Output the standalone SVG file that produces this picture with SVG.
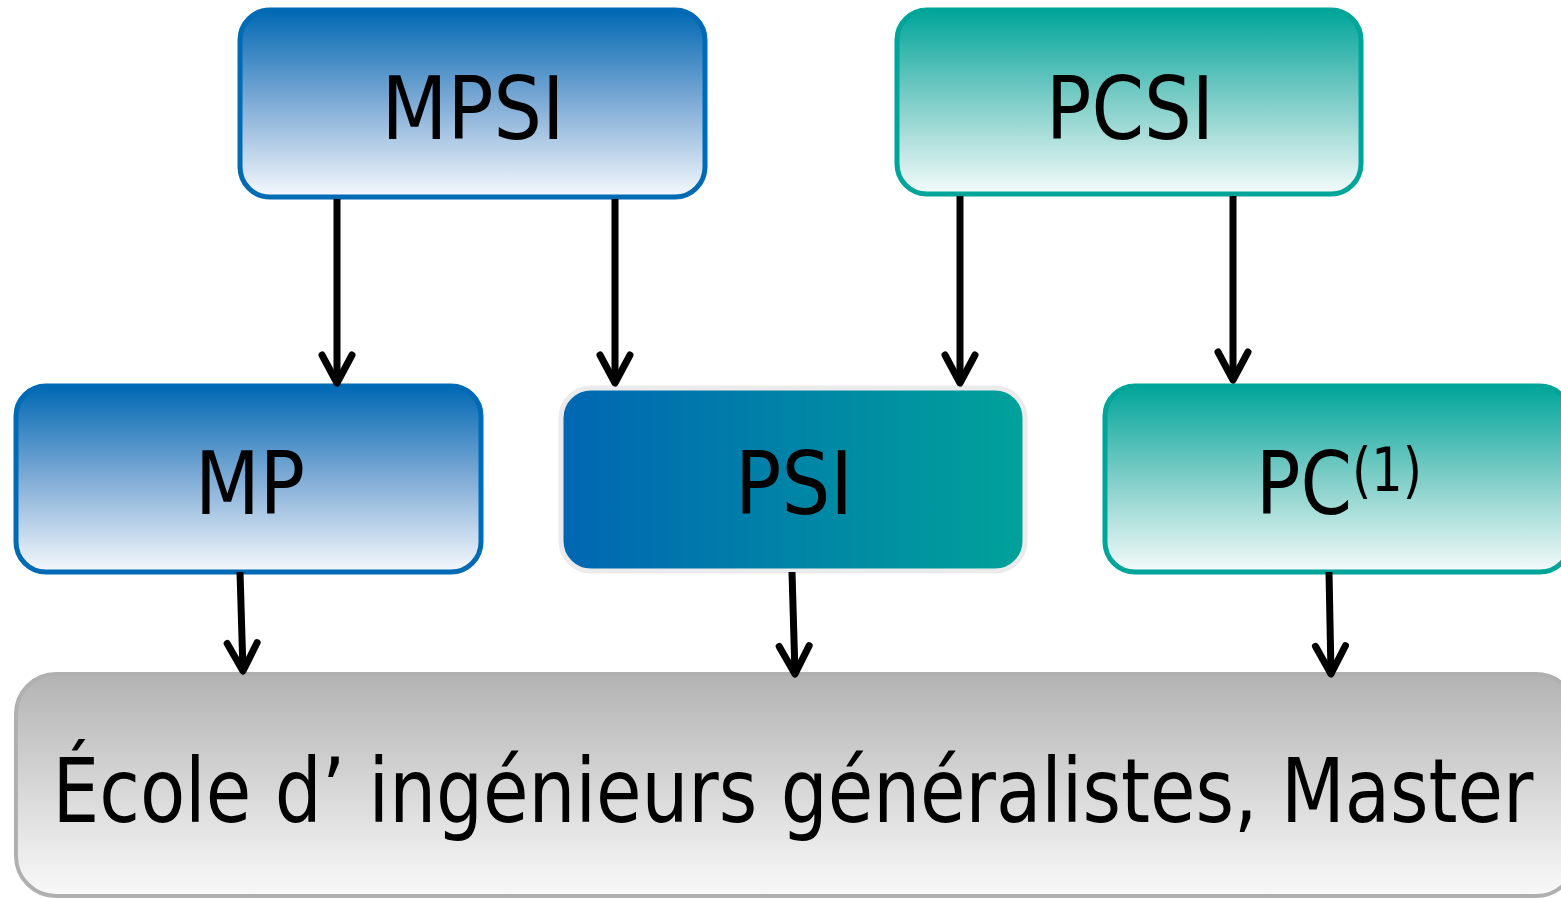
<svg xmlns="http://www.w3.org/2000/svg" width="1561" height="898" viewBox="0 0 1561 898">
<defs>
<linearGradient id="gBlue" x1="0" y1="0" x2="0" y2="1">
<stop offset="0" stop-color="#0068b3"/>
<stop offset="0.5" stop-color="#80acd6"/>
<stop offset="1" stop-color="#f6f9fd"/>
</linearGradient>
<linearGradient id="gTeal" x1="0" y1="0" x2="0" y2="1">
<stop offset="0" stop-color="#00a59a"/>
<stop offset="0.5" stop-color="#80cec8"/>
<stop offset="1" stop-color="#f4fbfa"/>
</linearGradient>
<linearGradient id="gPsi" x1="0" y1="0" x2="1" y2="0">
<stop offset="0" stop-color="#0066b3"/>
<stop offset="1" stop-color="#00a29a"/>
</linearGradient>
<linearGradient id="gGray" x1="0" y1="0" x2="0" y2="1">
<stop offset="0" stop-color="#b3b3b3"/>
<stop offset="1" stop-color="#f9f9f9"/>
</linearGradient>
<marker id="arr" markerUnits="userSpaceOnUse" markerWidth="44" markerHeight="44" viewBox="-36 -22 44 44" refX="0" refY="0" orient="auto">
<path d="M-28,-15 L0,0 L-28,15" fill="none" stroke="#000" stroke-width="7" stroke-linecap="round" stroke-linejoin="round"/>
</marker>
</defs>
<style>
.lbl{font-family:"DejaVu Sans Condensed","DejaVu Sans",sans-serif;font-size:87px;fill:#000;text-anchor:middle}
.blue{fill:url(#gBlue);stroke:#006ab4;stroke-width:5}
.teal{fill:url(#gTeal);stroke:#00a59a;stroke-width:5}
.conn line{stroke:#000;stroke-width:7;marker-end:url(#arr)}
</style>
<g id="node-mpsi">
<rect class="blue" x="240" y="10" width="465" height="187" rx="30"/>
<text class="lbl" x="473" y="139" textLength="183" lengthAdjust="spacingAndGlyphs">MPSI</text>
</g>
<g id="node-pcsi">
<rect class="teal" x="897" y="10" width="464" height="184" rx="30"/>
<text class="lbl" x="1130" y="139" textLength="168" lengthAdjust="spacingAndGlyphs">PCSI</text>
</g>
<g id="node-mp">
<rect class="blue" x="16" y="386" width="465" height="186" rx="30"/>
<text class="lbl" x="250" y="514" textLength="110" lengthAdjust="spacingAndGlyphs">MP</text>
</g>
<g id="node-psi">
<rect x="561" y="388" width="464" height="183" rx="30" fill="url(#gPsi)" stroke="#ebebeb" stroke-width="5"/>
<text class="lbl" x="794" y="514" textLength="118" lengthAdjust="spacingAndGlyphs">PSI</text>
</g>
<g id="node-pc">
<rect class="teal" x="1105" y="386" width="465" height="186" rx="30"/>
<text class="lbl" x="1304" y="514" textLength="96" lengthAdjust="spacingAndGlyphs">PC</text>
<text class="lbl" x="1387" y="491" style="font-size:60px" textLength="70" lengthAdjust="spacingAndGlyphs">(1)</text>
</g>
<g id="node-ecole">
<rect x="16" y="674" width="1560" height="222" rx="40" fill="url(#gGray)" stroke="#b0b0b0" stroke-width="4"/>
<text class="lbl" x="793" y="822" style="font-size:89px" textLength="1481" lengthAdjust="spacingAndGlyphs">École d’ ingénieurs généralistes, Master</text>
</g>
<g id="connectors" class="conn">
<line x1="337" y1="199" x2="337" y2="383"/>
<line x1="615" y1="199" x2="615" y2="383"/>
<line x1="960" y1="196" x2="960" y2="383"/>
<line x1="1233" y1="196" x2="1233" y2="380"/>
<line x1="240" y1="572" x2="243" y2="671"/>
<line x1="792" y1="572" x2="795" y2="674"/>
<line x1="1329" y1="572" x2="1331" y2="674"/>
</g>
</svg>
